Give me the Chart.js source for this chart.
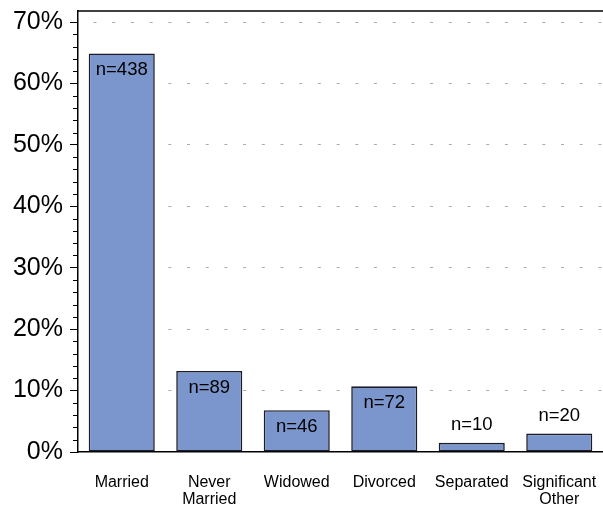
<!DOCTYPE html>
<html lang="en">
<head>
    <meta charset="UTF-8">
    <title>Marital status</title>
    <script src="https://cdn.jsdelivr.net/npm/chart.js"></script>
    <style>
        html, body {
            margin: 0;
            padding: 0;
            background: #ffffff;
            overflow: hidden;
        }
        #wrap {
            width: 603px;
            height: 512px;
        }
        canvas {
            display: block;
        }
    </style>
</head>
<body>
    <div id="wrap"><canvas id="maritalChart"></canvas></div>

    <script>
        // Data
        const categories = ['Married', ['Never', 'Married'], 'Widowed', 'Divorced', 'Separated', ['Significant', 'Other']];
        const counts = [438, 89, 46, 72, 10, 20];
        const percents = [64.9, 13.2, 6.8, 10.7, 1.5, 3.0];
        const majorTicks = [0, 10, 20, 30, 40, 50, 60, 70];

        // n= labels, inside the bar near its top, or above it when the bar is short
        const countLabels = {
            id: 'countLabels',
            afterDatasetsDraw(chart) {
                const ctx = chart.ctx;
                const meta = chart.getDatasetMeta(0);
                ctx.save();
                ctx.font = '18.5px "Liberation Sans", Arial, sans-serif';
                ctx.fillStyle = '#000';
                ctx.textAlign = 'center';
                ctx.textBaseline = 'middle';
                meta.data.forEach((bar, i) => {
                    const y = percents[i] < 5 ? bar.y - 18 : bar.y + 17;
                    ctx.fillText('n=' + counts[i], bar.x, y);
                });
                ctx.restore();
            }
        };

        // minor ticks on the y axis and the top frame line
        const frame = {
            id: 'frame',
            afterDraw(chart) {
                const ctx = chart.ctx;
                const y = chart.scales.y;
                const area = chart.chartArea;
                ctx.save();
                ctx.strokeStyle = '#000';
                ctx.lineWidth = 1;
                for (let v = 0; v <= 70; v += 2) {
                    if (v % 10 === 0) continue;
                    const py = Math.round(y.getPixelForValue(v)) + 0.5;
                    ctx.beginPath();
                    ctx.moveTo(area.left - 5, py);
                    ctx.lineTo(area.left, py);
                    ctx.stroke();
                }
                ctx.lineWidth = 1.5;
                ctx.beginPath();
                ctx.moveTo(area.left, area.top);
                ctx.lineTo(area.right, area.top);
                ctx.stroke();
                ctx.restore();
            }
        };

        const ctx = document.getElementById('maritalChart').getContext('2d');
        new Chart(ctx, {
            type: 'bar',
            data: {
                labels: categories,
                datasets: [{
                    data: percents,
                    backgroundColor: '#7b96cc',
                    borderColor: '#1c1c28',
                    borderWidth: 1.6,
                    borderSkipped: false,
                    barPercentage: 0.755,
                    categoryPercentage: 1
                }]
            },
            options: {
                responsive: true,
                maintainAspectRatio: false,
                animation: false,
                layout: {
                    padding: { top: 11, right: 0, left: 0, bottom: 0 }
                },
                plugins: {
                    legend: { display: false },
                    tooltip: { enabled: false }
                },
                scales: {
                    x: {
                        grid: { display: false, drawTicks: false },
                        border: { color: '#000', width: 1.5 },
                        ticks: {
                            color: '#000',
                            padding: 22,
                            maxRotation: 0,
                            font: { family: '"Liberation Sans", Arial, sans-serif', size: 16, lineHeight: 1.05 }
                        },
                        afterFit(scale) {
                            scale.height = 60;
                            scale.paddingLeft = 0;
                            scale.paddingRight = 0;
                        }
                    },
                    y: {
                        min: 0,
                        max: 71.8,
                        afterBuildTicks(scale) {
                            scale.ticks = majorTicks.map(v => ({ value: v }));
                        },
                        grid: {
                            color: ctx => ctx.tick && ctx.tick.value === 0 ? 'rgba(0,0,0,0)' : '#aaaaaa',
                            lineWidth: 1,
                            drawTicks: true,
                            tickLength: 8,
                            tickColor: '#000',
                            tickBorderDash: []
                        },
                        border: { color: '#000', width: 1.5, dash: [3, 15.7], dashOffset: -15 },
                        ticks: {
                            color: '#000',
                            padding: 7,
                            font: { family: '"Liberation Sans", Arial, sans-serif', size: 25 },
                            callback: v => v + '%'
                        },
                        afterFit(scale) {
                            scale.width = 78;
                            scale.paddingTop = 0;
                            scale.paddingBottom = 0;
                        }
                    }
                }
            },
            plugins: [countLabels, frame]
        });
    </script>
</body>
</html>
